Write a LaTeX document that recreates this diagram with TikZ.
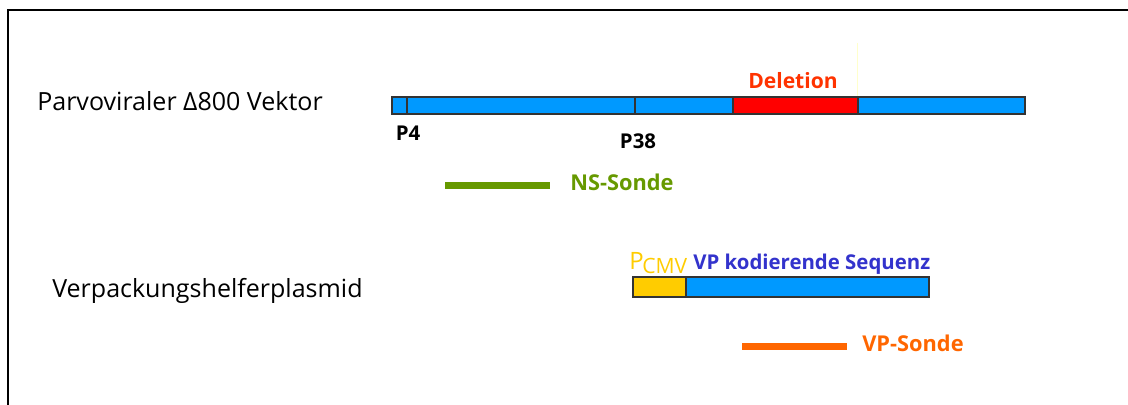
\documentclass[tikz,border=0pt]{standalone}
\usepackage{fontspec}
\setmainfont{Open Sans}
\usepackage{xcolor}
\usetikzlibrary{positioning}

\definecolor{barblue}{HTML}{0099FF}
\definecolor{delred}{HTML}{FF0000}
\definecolor{deltext}{HTML}{FF3300}
\definecolor{nsgreen}{HTML}{669900}
\definecolor{cmvyellow}{HTML}{FFCC00}
\definecolor{vpblue}{HTML}{3333CC}
\definecolor{vporange}{HTML}{FF6600}
\definecolor{guideyellow}{HTML}{FFFFCC}

\tikzset{
  segment/.style={draw=black!80, line width=0.8pt},
  probe/.style={line width=5pt},
  rowlabel/.style={anchor=west, inner sep=0pt, font=\fontsize{17.8}{20}\selectfont},
  marklabel/.style={inner sep=0pt, font=\bfseries\fontsize{14.5}{16}\selectfont},
  featlabel/.style={inner sep=0pt, font=\bfseries\fontsize{15.5}{18}\selectfont}
}

\begin{document}
\begin{tikzpicture}[x=0.025cm, y=-0.025cm]
    \useasboundingbox (0,0) rectangle (1128,405);

    % Frame (open to the right and bottom)
    \draw[line width=1.8pt] (8,405) -- (8,10) -- (1128,10);

    % Vector row
    \node[rowlabel] (vector) at (37,101) {Parvoviraler Δ800 Vektor};
    \fill[barblue] (392,97) rectangle (1025,114);
    \fill[delred] (733,97) rectangle (858,114);
    \foreach \x in {407,635,733,858} {
        \draw[segment] (\x,97) -- (\x,114);
    }
    \draw[segment] (392,97) rectangle (1025,114);
    \draw[guideyellow, line width=0.6pt] (857,43) -- (857,96);
    \node[featlabel, text=deltext, font=\bfseries\fontsize{15}{18}\selectfont] (deletion) at (793,81) {Deletion};
    \node[marklabel] (p4) at (408,133) {P4};
    \node[marklabel] (p38) at (638,141) {P38};

    % NS probe
    \draw[probe, nsgreen] (445,185.5) -- (550,185.5);
    \node[featlabel, text=nsgreen, anchor=west] (nsprobe) at (570,182) {NS-Sonde};

    % Helper plasmid row
    \node[rowlabel] (helper) at (52,291) {Verpackungshelferplasmid};
    \fill[cmvyellow] (633,277) rectangle (686,297);
    \fill[barblue] (686,277) rectangle (929,297);
    \draw[segment] (633,277) rectangle (929,297);
    \draw[segment] (686,277) -- (686,297);
    \node[inner sep=0pt, anchor=base west, text=cmvyellow] (pcmv) at (629,270)
        {\fontsize{17}{18}\selectfont P\kern-1pt\raisebox{-2.5pt}{\fontsize{15}{16}\selectfont CMV}};
    \node[featlabel, text=vpblue, anchor=base west, font=\bfseries\fontsize{14.5}{18}\selectfont] (vpseq) at (693,270) {VP kodierende Sequenz};

    % VP probe
    \draw[probe, vporange] (742,346.5) -- (847,346.5);
    \node[featlabel, text=vporange, anchor=west] (vpprobe) at (862,343) {VP-Sonde};
\end{tikzpicture}
\end{document}
